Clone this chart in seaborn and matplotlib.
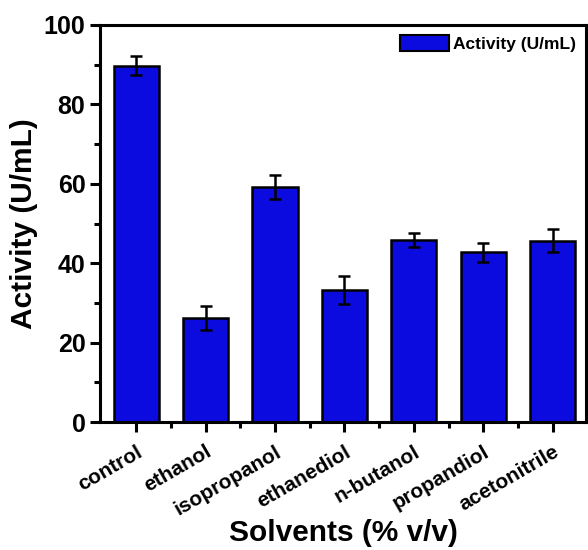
import numpy as np
import pandas as pd
import matplotlib
matplotlib.use("Agg")
import matplotlib.pyplot as plt
from matplotlib.ticker import MultipleLocator, FixedLocator
from matplotlib.patches import Patch
import seaborn as sns

solvents = ["control", "ethanol", "isopropanol", "ethanediol", "n-butanol", "propandiol", "acetonitrile"]
activity = [89.7, 26.2, 59.2, 33.2, 45.8, 42.8, 45.7]
activity_err = [2.4, 3.0, 3.0, 3.5, 1.7, 2.4, 3.0]

sns.set_theme(style="white")
plt.rcParams["font.family"] = ["Liberation Sans", "DejaVu Sans"]
plt.rcParams["font.weight"] = "bold"
plt.rcParams["text.color"] = "black"
plt.rcParams["axes.labelcolor"] = "black"
plt.rcParams["xtick.color"] = "black"
plt.rcParams["ytick.color"] = "black"

df = pd.DataFrame({"Solvent": solvents, "Activity": activity})

fig = plt.figure(figsize=(5.88, 5.5), dpi=100)
ax = fig.add_axes([100 / 588, 1 - 422 / 550, 486 / 588, 397 / 550])

bar_color = "#0b0be0"
sns.barplot(data=df, x="Solvent", y="Activity", color=bar_color, saturation=1,
            width=0.65, edgecolor="black", linewidth=1.8, errorbar=None, ax=ax)
ax.errorbar(np.arange(len(solvents)), activity, yerr=activity_err, fmt="none",
            ecolor="black", elinewidth=1.8, capsize=4, capthick=1.8, zorder=5)

ax.set_xlim(-0.52, 6.48)
ax.set_ylim(0, 100)
ax.yaxis.set_major_locator(MultipleLocator(20))
ax.yaxis.set_minor_locator(MultipleLocator(10))
ax.xaxis.set_minor_locator(FixedLocator(np.arange(len(solvents)) + 0.5))

for s in ax.spines.values():
    s.set_linewidth(2.2)
    s.set_color("black")

ax.tick_params(axis="both", which="major", direction="out", length=7.5, width=2.2,
               color="black", bottom=True, left=True)
ax.tick_params(axis="both", which="minor", direction="out", length=4, width=2.2,
               color="black", bottom=True, left=True)
ax.tick_params(axis="y", labelsize=18, pad=3)
ax.tick_params(axis="x", labelsize=15, pad=7)
for lbl in ax.get_yticklabels():
    lbl.set_fontweight("bold")
for lbl in ax.get_xticklabels():
    lbl.set_rotation(30)
    lbl.set_ha("right")
    lbl.set_rotation_mode("anchor")
    lbl.set_fontweight("bold")

ax.set_xlabel("Solvents (% v/v)", fontsize=21.5, fontweight="bold")
ax.xaxis.set_label_coords(0.5, -0.245)
ax.set_ylabel("Activity (U/mL)", fontsize=21.5, fontweight="bold", labelpad=4)

handle = Patch(facecolor=bar_color, edgecolor="black", linewidth=1.5, label="Activity (U/mL)")
ax.legend(handles=[handle], loc="upper right", frameon=False,
          prop={"weight": "bold", "size": 12.5}, handlelength=2.8, handleheight=1.0,
          handletextpad=0.2, borderaxespad=0.3, borderpad=0.3)

fig.savefig("out.png", dpi=100)
